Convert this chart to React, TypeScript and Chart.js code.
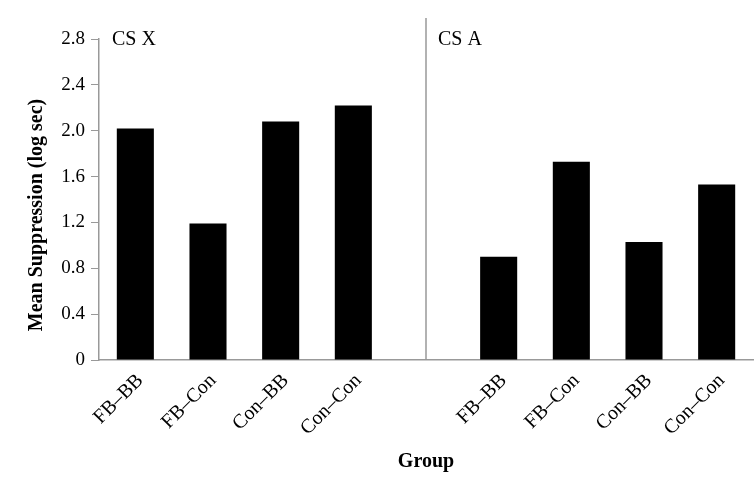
import React, { useEffect, useRef } from "react";
import { Chart, registerables } from "chart.js";

Chart.register(...registerables);

const categories = ["FB–BB", "FB–Con", "Con–BB", "Con–Con", "", "FB–BB", "FB–Con", "Con–BB", "Con–Con"];
const suppression: (number | null)[] = [2.02, 1.19, 2.08, 2.22, null, 0.9, 1.73, 1.03, 1.53];
const panelLabels = ["CS X", "CS A"];
const dividerIndex = 4;
const yTitle = "Mean Suppression (log sec)";
const xTitle = "Group";

const FONT = "'Liberation Serif', 'Times New Roman', serif";

const panelPlugin = {
  id: "panelPlugin",
  afterDatasetsDraw(chart: any) {
    const { ctx, chartArea, scales } = chart;
    const xDiv = scales.x.getPixelForValue(dividerIndex);
    ctx.save();
    ctx.strokeStyle = "#999";
    ctx.lineWidth = 1.5;
    ctx.beginPath();
    ctx.moveTo(xDiv, 18);
    ctx.lineTo(xDiv, chartArea.bottom);
    ctx.stroke();
    ctx.fillStyle = "#000";
    ctx.font = `20px ${FONT}`;
    ctx.textAlign = "left";
    ctx.textBaseline = "middle";
    ctx.fillText(panelLabels[0], chartArea.left + 13, 40);
    ctx.fillText(panelLabels[1], xDiv + 12, 40);
    // y-axis title
    ctx.save();
    ctx.translate(37, 215);
    ctx.rotate(-Math.PI / 2);
    ctx.textAlign = "center";
    ctx.font = `bold 20px ${FONT}`;
    ctx.fillText(yTitle, 0, 0);
    ctx.restore();
    ctx.restore();
  },
};

export default function App() {
  const ref = useRef<HTMLCanvasElement | null>(null);
  useEffect(() => {
    if (!ref.current) return;
    const chart = new Chart(ref.current, {
      type: "bar",
      data: {
        labels: categories,
        datasets: [
          {
            data: suppression,
            backgroundColor: "#000",
            borderWidth: 0,
            categoryPercentage: 1,
            barPercentage: 0.51,
          },
        ],
      },
      options: {
        animation: false,
        responsive: true,
        maintainAspectRatio: false,
        layout: { padding: { top: 39, right: 3, left: 0, bottom: 0 } },
        plugins: { legend: { display: false }, tooltip: { enabled: false } },
        scales: {
          x: {
            grid: { display: false },
            border: { display: true, color: "#999", width: 1.5 },
            ticks: {
              color: "#000",
              font: { family: FONT, size: 20 },
              minRotation: 45,
              maxRotation: 45,
              autoSkip: false,
              padding: 1,
              labelOffset: 5,
            },
            title: {
              display: true,
              text: xTitle,
              color: "#000",
              font: { family: FONT, size: 20, weight: "bold" },
              padding: { top: 0, bottom: 8 },
            },
            afterFit: (scale: any) => {
              scale.height = 122;
            },
          },
          y: {
            min: 0,
            max: 2.8,
            grid: { drawOnChartArea: false, drawTicks: true, tickLength: 8, color: "#999" },
            border: { display: true, color: "#999", width: 1.5 },
            ticks: {
              stepSize: 0.4,
              color: "#000",
              font: { family: FONT, size: 19 },
              padding: 6,
              callback: (v: any) => (Number(v) === 0 ? "0" : Number(v).toFixed(1)),
            },
            title: { display: false },
            afterFit: (scale: any) => {
              scale.width = 99;
            },
          },
        },
      },
      plugins: [panelPlugin],
    });
    return () => chart.destroy();
  }, []);
  return (
    <div style={{ position: "absolute", left: 0, top: 0, width: 756, height: 482, background: "#fff" }}>
      <canvas ref={ref} />
    </div>
  );
}
